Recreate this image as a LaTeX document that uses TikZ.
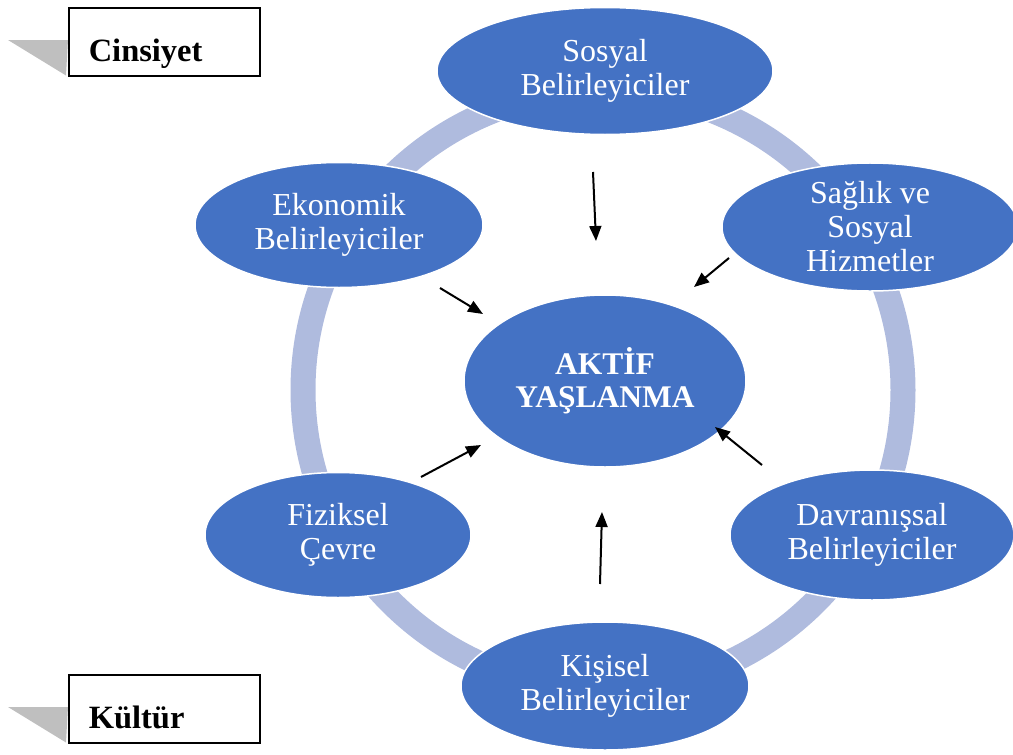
\documentclass[tikz,border=0pt]{standalone}
\usepackage{fontspec}
\setmainfont{Liberation Serif}
\usetikzlibrary{arrows.meta, calc, positioning, shapes.geometric}
\definecolor{ovalblue}{RGB}{68,114,196}
\definecolor{ringblue}{RGB}{175,187,222}
\definecolor{tabgray}{RGB}{191,191,191}

\begin{document}
\begin{tikzpicture}[x=1pt, y=-1pt, >={Triangle[length=15pt, width=12pt]},
    oval/.style={ellipse, fill=ovalblue, draw=white, line width=1.5pt, text=white,
        align=center, inner sep=0pt, font=\fontsize{32}{34}\selectfont},
    tagbox/.style={draw, line width=1.5pt, fill=white, anchor=north west, align=left,
        text width=151pt, inner xsep=20pt, inner ysep=4pt, text height=50pt, text depth=10pt,
        font=\fontsize{32.5}{34}\selectfont\bfseries},
    pointer/.style={->, line width=2pt}]
    \useasboundingbox (0,0) rectangle (1013,755);

    % Ring
    \draw[ringblue, line width=25pt] (603,390) circle[radius=300];

    % Determinants
    \node[oval, minimum width=336pt, minimum height=127pt] (sosyal) at (605,71) {Sosyal\\Belirleyiciler};
    \node[oval, minimum width=296pt, minimum height=127pt] (saglik) at (870,227) {Sağlık ve\\Sosyal\\Hizmetler};
    \node[oval, minimum width=288pt, minimum height=125pt] (ekonomik) at (339,225) {Ekonomik\\Belirleyiciler};
    \node[oval, minimum width=266pt, minimum height=125pt] (fiziksel) at (338,535) {Fiziksel\\Çevre};
    \node[oval, minimum width=284pt, minimum height=130pt] (davranis) at (872,535) {Davranışsal\\Belirleyiciler};
    \node[oval, minimum width=288pt, minimum height=128pt] (kisisel) at (605,686) {Kişisel\\Belirleyiciler};

    % Centre
    \node[oval, minimum width=282pt, minimum height=172pt, font=\fontsize{31.5}{33}\selectfont\bfseries]
        (aktif) at (605,381) {AKTİF\\YAŞLANMA};

    % Arrow ends
    \coordinate (s1) at (593,172);  \coordinate (s2) at (596,241);
    \coordinate (h1) at (729,258);  \coordinate (h2) at (694,287);
    \coordinate (e1) at (440,288);  \coordinate (e2) at (483,314);
    \coordinate (f1) at (421,477);  \coordinate (f2) at (481,445);
    \coordinate (k1) at (600,584);  \coordinate (k2) at (602,512);
    \coordinate (d1) at (762,465);  \coordinate (d2) at (715,427);
    \foreach \a/\b in {s1/s2, h1/h2, e1/e2, f1/f2, k1/k2, d1/d2}
        \draw[pointer] (\a) -- (\b);

    % Side tags
    \node[tagbox] (cinsiyet) at (68,7) {Cinsiyet};
    \fill[tabgray] ($(cinsiyet.north west)+(-60,33)$) -- ($(cinsiyet.north west)+(0,33)$)
        -- ($(cinsiyet.south west)+(-2,-1)$) -- cycle;
    \node[tagbox] (kultur) at (68,674) {Kültür};
    \fill[tabgray] ($(kultur.north west)+(-60,33)$) -- ($(kultur.north west)+(0,33)$)
        -- ($(kultur.south west)+(-2,-1)$) -- cycle;
\end{tikzpicture}
\end{document}
